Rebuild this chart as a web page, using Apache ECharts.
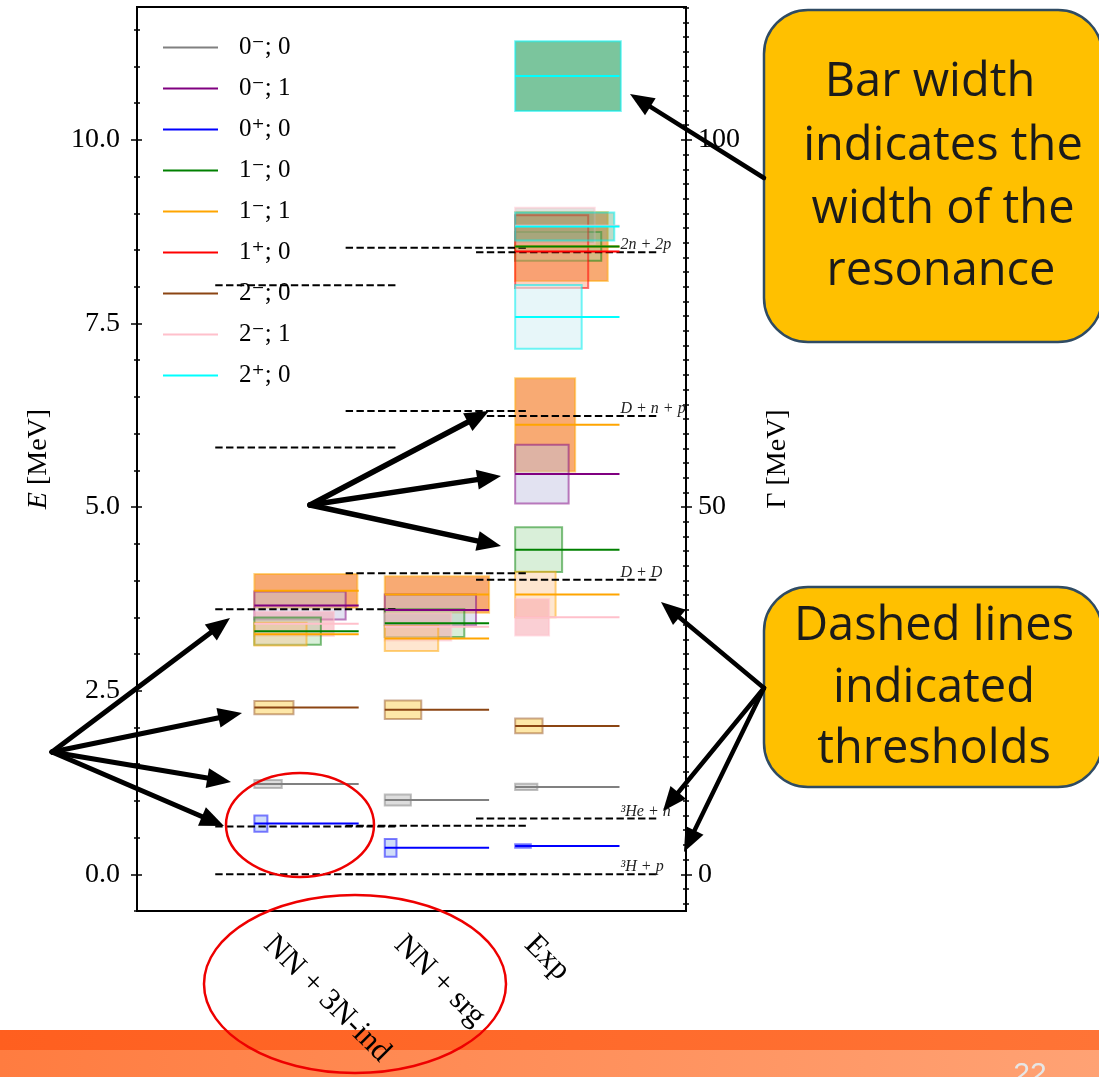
<!DOCTYPE html>
<html><head><meta charset="utf-8">
<script src="https://cdn.jsdelivr.net/npm/echarts@6/dist/echarts.min.js"></script>
<style>html,body{margin:0;padding:0;background:#fff}#c{width:1099px;height:1077px}</style>
</head><body><div id="c"></div><script>
// ---------------- DATA ----------------
const columns = ['NN + 3N-ind', 'NN + srg', 'Exp'];
const channels = ['0⁻; 0', '0⁻; 1', '0⁺; 0', '1⁻; 0', '1⁻; 1', '1⁺; 0', '2⁻; 0', '2⁻; 1', '2⁺; 0'];
// one entry per level: column index, channel index, energy E [MeV], width Γ [MeV], bar width
const levelColumn  = [0,0,0,0,0,0,0,0, 1,1,1,1,1,1,1,1, 2,2,2,2,2,2,2,2,2,2,2,2,2,2,2];
const levelChannel = [2,0,6,4,3,7,1,4, 2,0,6,4,7,3,1,4, 2,0,6,7,4,3,1,4,8,5,3,4,7,8,8];
const levelEnergy  = [0.69,1.23,2.27,3.27,3.31,3.41,3.66,3.86,
                      0.36,1.01,2.24,3.21,3.37,3.42,3.60,3.81,
                      0.385,1.19,2.02,3.50,3.81,4.42,5.45,6.12,7.59,8.48,8.55,8.55,8.83,8.82,10.87];
const levelGamma   = [2.2,1.1,1.8,3.1,3.7,3.3,3.8,4.6,
                      2.4,1.5,2.5,3.4,3.7,3.8,4.2,5.0,
                      0.5,0.84,2.0,5.0,6.2,6.1,8.0,12.7,8.7,9.9,3.9,9.4,4.9,3.8,9.5];
const levelBar     = [0.10,0.21,0.30,0.40,0.51,0.61,0.70,0.79,
                      0.09,0.20,0.28,0.41,0.51,0.61,0.70,0.80,
                      0.12,0.17,0.21,0.26,0.31,0.36,0.41,0.46,0.51,0.56,0.66,0.71,0.61,0.76,0.81];
const thresholdNames = ['³H + p', '³He + n', 'D + D', 'D + n + p', '2n + 2p'];
const thresholdNN3N = [0, 0.65, 3.61, 5.81, 8.02];
const thresholdSRG  = [0, 0.66, 4.10, 6.31, 8.53];
const thresholdExp  = [0, 0.76, 4.01, 6.24, 8.47];
const eTickLabels = [0, 2.5, 5, 7.5, 10];
const gammaTickLabels = [0, 50, 100];

// ---------------- STYLE ----------------
const SERIF = '"Liberation Serif", "DejaVu Serif", serif';
const channelColors = ['#808080','#800080','#0000ff','#008000','#ffa500','#ff0000','#8b4513','#ffc0cb','#00ffff'];
const edgeColors = ['rgba(128,128,128,0.5)','rgba(128,0,128,0.5)','rgba(0,0,255,0.5)','rgba(0,128,0,0.5)',
  'rgba(255,165,0,0.5)','rgba(255,0,0,0.55)','rgba(139,69,19,0.45)','rgba(255,192,203,0.5)','rgba(0,238,238,0.55)'];
const paleFill = ['rgba(170,170,170,0.4)','rgba(190,190,225,0.45)','rgba(150,180,240,0.45)','rgba(160,215,160,0.4)',
  'rgba(252,200,150,0.45)','rgba(250,150,115,0.45)','rgba(252,215,110,0.6)','rgba(245,160,170,0.5)','rgba(215,240,245,0.6)'];
const strongFill = {7:'rgba(245,125,40,0.65)', 15:'rgba(245,125,40,0.65)', 23:'rgba(245,125,40,0.65)',
  27:'rgba(245,125,40,0.65)', 28:'rgba(170,170,160,0.35)', 29:'rgba(90,165,115,0.4)', 30:'rgba(60,170,110,0.68)'};
const lineSeriesOrder = [0,1,2,4,3,5,6,7,8];
const LINE_LEN = 0.8, THR_L = -0.3, THR_R = 1.1, LABEL_X = 2.8;

function fillFor(i){ return strongFill[i] || paleFill[levelChannel[i]]; }

// box draw order: wider boxes first
let boxOrder = levelBar.map((w,i)=>i).sort((a,b)=>levelBar[b]-levelBar[a]);
boxOrder.splice(boxOrder.indexOf(29),1);
boxOrder.splice(boxOrder.indexOf(25)+1,0,29);

const thresholdsByCol = [thresholdNN3N, thresholdSRG, thresholdExp];
const thrData = [];
thresholdsByCol.forEach((arr,c)=>arr.forEach(e=>thrData.push([c,e])));

const eMinor = [], gMinor = [];
for (let v=-0.5; v<=11.8; v+=0.5) eMinor.push(+v.toFixed(2));
for (let v=-4; v<=118; v+=2) gMinor.push(v);

const series = [];
series.push({
  type:'custom', name:'boxes', z:2, silent:true,
  data: boxOrder.map(i=>[levelColumn[i], levelEnergy[i], levelGamma[i], levelBar[i], i]),
  renderItem:(p,api)=>{
    const c=api.value(0), e=api.value(1), g=api.value(2), w=api.value(3), i=api.value(4);
    const a=api.coord([c, e+g/20]), b=api.coord([c+w, e-g/20]);
    return {type:'rect', shape:{x:a[0], y:a[1], width:b[0]-a[0], height:b[1]-a[1]},
      style:{fill:fillFor(i), stroke:edgeColors[levelChannel[i]], lineWidth:2}};
  }
});
series.push({
  type:'custom', name:'thresholds', z:3, silent:true, data:thrData,
  renderItem:(p,api)=>{
    const c=api.value(0), e=api.value(1);
    const a=api.coord([c+THR_L, e]), b=api.coord([c+THR_R, e]);
    return {type:'line', shape:{x1:a[0],y1:a[1],x2:b[0],y2:b[1]},
      style:{stroke:'#000', lineWidth:2, lineDash:[7.4,3.4]}};
  }
});
series.push({
  type:'custom', name:'thrlabels', z:4, silent:true,
  data: thresholdExp.map((e,k)=>[LABEL_X, e, k]),
  renderItem:(p,api)=>{
    const pt=api.coord([api.value(0), api.value(1)]);
    return {type:'text', style:{text:thresholdNames[api.value(2)], x:pt[0]+1, y:pt[1]+1,
      textAlign:'left', textVerticalAlign:'bottom', align:'left', verticalAlign:'bottom',
      fontSize:16, fontStyle:'italic', fontFamily:SERIF, fill:'#222'}};
  }
});
lineSeriesOrder.forEach(ch=>{
  const idx = levelChannel.map((c,i)=>c===ch?i:-1).filter(i=>i>=0);
  series.push({
    type:'custom', name:channels[ch], z:5, silent:true,
    itemStyle:{color:channelColors[ch]},
    data: idx.map(i=>[levelColumn[i], levelEnergy[i]]),
    renderItem:(p,api)=>{
      const c=api.value(0), e=api.value(1);
      const a=api.coord([c,e]), b=api.coord([c+LINE_LEN,e]);
      return {type:'line', shape:{x1:a[0],y1:a[1],x2:b[0],y2:b[1]},
        style:{stroke:channelColors[ch], lineWidth:2}};
    }
  });
});

function tickAxis(pos, min, max, values, len, inside, extra){
  return Object.assign({type:'value', position:pos, min, max, splitLine:{show:false},
    axisLine:{show:false, onZero:false}, axisLabel:{show:false},
    axisTick:{show:true, inside, length:len, customValues:values, lineStyle:{color:'#000', width:1.5}}}, extra||{});
}
const yAxes = [
  tickAxis('left', -0.5, 11.81, eTickLabels, 6, false, {
    axisLabel:{show:true, customValues:eTickLabels, formatter:v=>v.toFixed(1), fontSize:28, fontFamily:SERIF, color:'#000', margin:17},
    name:'{i|E} [MeV]', nameLocation:'middle', nameGap:84, nameRotate:90,
    nameTextStyle:{fontSize:28, fontFamily:SERIF, color:'#000', rich:{i:{fontStyle:'italic', fontSize:28, fontFamily:SERIF, color:'#000'}}}
  }),
  tickAxis('left', -0.5, 11.81, eTickLabels, 5, true),
  tickAxis('left', -0.5, 11.81, eMinor, 3, false),
  tickAxis('left', -0.5, 11.81, eMinor, 3, true),
  tickAxis('right', -5, 118.1, gammaTickLabels, 6, false, {
    axisLabel:{show:true, customValues:gammaTickLabels, formatter:v=>String(v), fontSize:28, fontFamily:SERIF, color:'#000', margin:12},
    name:'Γ [MeV]', nameLocation:'middle', nameGap:78, nameRotate:90,
    nameTextStyle:{fontSize:28, fontFamily:SERIF, color:'#000'}
  }),
  tickAxis('right', -5, 118.1, gammaTickLabels, 5, true),
  tickAxis('right', -5, 118.1, gMinor, 3, false),
  tickAxis('right', -5, 118.1, gMinor, 3, true)
];

// ---------------- annotations ----------------
function arrow(x1,y1,x2,y2,w,hl,hw){
  const dx=x2-x1, dy=y2-y1, L=Math.hypot(dx,dy), ux=dx/L, uy=dy/L;
  const bx=x2-ux*hl, by=y2-uy*hl;
  return [
    {type:'line', z:60, shape:{x1,y1,x2:bx+ux*3,y2:by+uy*3}, style:{stroke:'#000', lineWidth:w, lineCap:'round'}},
    {type:'polygon', z:60, shape:{points:[[x2,y2],[bx-uy*hw/2,by+ux*hw/2],[bx+uy*hw/2,by-ux*hw/2]]}, style:{fill:'#000'}}
  ];
}
const gfx = [];
gfx.push({type:'rect', z:1, shape:{x:0,y:1030,width:1099,height:20},
  style:{fill:new echarts.graphic.LinearGradient(0,0,1,0,[{offset:0,color:'#ff5f1f'},{offset:1,color:'#ff7436'}])}});
gfx.push({type:'rect', z:1, shape:{x:0,y:1050,width:1099,height:27},
  style:{fill:new echarts.graphic.LinearGradient(0,0,1,0,[{offset:0,color:'#ff7c40'},{offset:1,color:'#ffa274'}])}});
gfx.push({type:'text', z:2, style:{text:'22', x:1030, y:1060, textAlign:'center', align:'center', textVerticalAlign:'top', verticalAlign:'top',
  fontSize:30, fontFamily:'"Liberation Sans", sans-serif', fill:'#e6e6e6'}});
[[764,10,338,332],[764,587,338,200]].forEach(r=>gfx.push({type:'rect', z:50,
  shape:{x:r[0],y:r[1],width:r[2],height:r[3],r:44}, style:{fill:'#ffc000', stroke:'#2f4b63', lineWidth:2.5}}));
const calloutText = [['Bar width',930,83],['indicates the',943,147],['width of the',943,210],['resonance',941,272],
  ['Dashed lines',934,627],['indicated',934,689],['thresholds',934,750]];
calloutText.forEach(t=>gfx.push({type:'text', z:51, style:{text:t[0], x:t[1], y:t[2], textAlign:'center', align:'center',
  textVerticalAlign:'middle', verticalAlign:'middle', fontSize:47, fontFamily:'"Open Sans", "Noto Sans", sans-serif', fill:'#1b1b1b'}}));
[[230,618],[242,713],[231,782],[224,826]].forEach(p=>gfx.push(...arrow(52,752,p[0],p[1],5,24,20)));
[[489,411],[501,476],[501,546]].forEach(p=>gfx.push(...arrow(310,505,p[0],p[1],5.5,24,20)));
gfx.push(...arrow(764,178,630,94,4.5,24,20));
[[661,602],[663,811],[684,852]].forEach(p=>gfx.push(...arrow(764,688,p[0],p[1],4.5,24,20)));
gfx.push({type:'ellipse', z:55, shape:{cx:300,cy:825,rx:74,ry:52}, style:{fill:'none', stroke:'#ee0000', lineWidth:2.5}});
gfx.push({type:'ellipse', z:55, shape:{cx:355,cy:984,rx:151,ry:89}, style:{fill:'none', stroke:'#ee0000', lineWidth:2.5}});

const chart = echarts.init(document.getElementById('c'), null, {renderer:'canvas'});
chart.setOption({
  animation:false,
  backgroundColor:'#fff',
  grid:{left:137, right:413, top:7, bottom:166, show:true, borderColor:'#000', borderWidth:2, backgroundColor:'transparent'},
  xAxis:{type:'value', min:-0.9, max:3.31, z:10, splitLine:{show:false}, axisLine:{show:false, onZero:false}, axisTick:{show:false},
    axisLabel:{customValues:[0,1,2], formatter:v=>'{a|'+columns[Math.round(v)]+'}', rotate:-45, margin:15,
      rich:{a:{fontSize:31, fontFamily:SERIF, color:'#000', padding:[0,0,0,20]}}}},
  yAxis:yAxes,
  legend:{data:channels, orient:'vertical', left:158, top:30, icon:'rect', itemWidth:55, itemHeight:2, itemGap:16,
    selectedMode:false, textStyle:{fontSize:25, fontFamily:SERIF, color:'#000', lineHeight:24, padding:[0,0,0,16]}},
  series,
  graphic:{elements:gfx}
});
</script></body></html>
